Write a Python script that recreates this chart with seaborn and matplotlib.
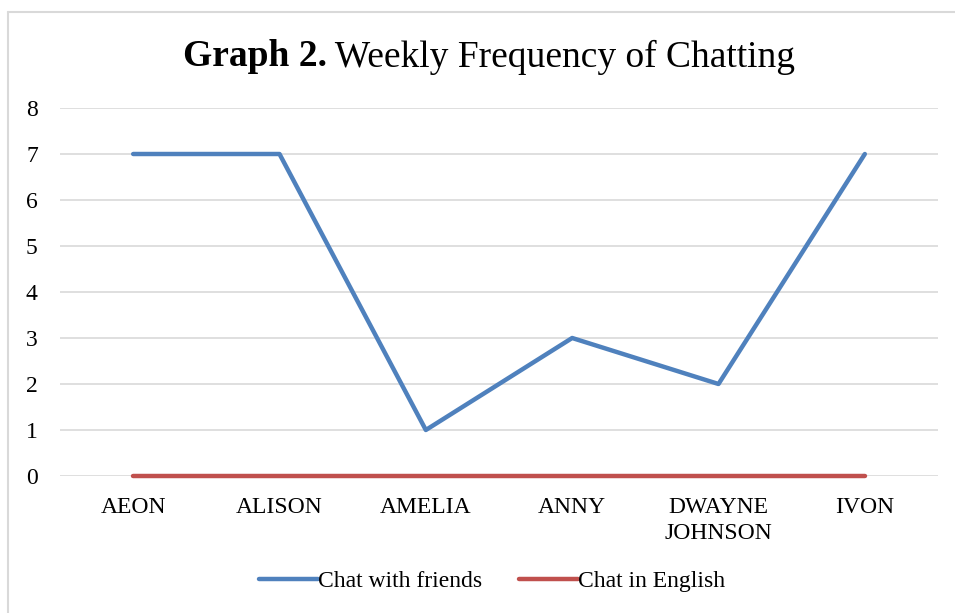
import pandas as pd
import seaborn as sns
import matplotlib.pyplot as plt
from matplotlib.lines import Line2D

names = ["AEON", "ALISON", "AMELIA", "ANNY", "DWAYNE\nJOHNSON", "IVON"]
chat_friends = [7, 7, 1, 3, 2, 7]
chat_english = [0, 0, 0, 0, 0, 0]
series = ["Chat with friends", "Chat in English"]
colors = ["#4F81BD", "#C0504D"]

df = pd.DataFrame({
    "name": names * 2,
    "value": chat_friends + chat_english,
    "series": [series[0]] * len(names) + [series[1]] * len(names),
})

sns.set_style("white")
plt.rcParams["font.family"] = ["Liberation Serif", "DejaVu Serif"]
plt.rcParams["text.color"] = "black"
plt.rcParams["xtick.color"] = "black"
plt.rcParams["ytick.color"] = "black"

fig = plt.figure(figsize=(9.55, 6.13), dpi=100)
ax = fig.add_axes([60 / 955, 1 - 476 / 613, 878 / 955, 368 / 613])

sns.lineplot(data=df, x="name", y="value", hue="series", palette=colors,
             linewidth=3.2, ax=ax, legend=False, zorder=3)
for ln in ax.lines:
    ln.set_clip_on(False)
    ln.set_solid_capstyle("round")

ax.set_xlim(-0.5, len(names) - 0.5)
ax.set_ylim(0, 8)
ax.set_yticks(range(0, 9))
ax.yaxis.grid(True, color="#D9D9D9", linewidth=1.2)
ax.xaxis.grid(False)
for s in ax.spines.values():
    s.set_visible(False)
ax.tick_params(axis="y", length=0, pad=16, labelsize=17)
ax.tick_params(axis="x", length=0, pad=15, labelsize=17)
for lbl in ax.get_xticklabels():
    lbl.set_verticalalignment("top")
    lbl.set_linespacing(1.35)
ax.set_xlabel("")
ax.set_ylabel("")

# title: bold part + regular part
title_y = 1 - 57 / 613
t1 = fig.text(0, title_y, "Graph 2.", fontsize=27, fontweight="bold", va="center")
t2 = fig.text(0, title_y, " Weekly Frequency of Chatting", fontsize=27, va="center")
fig.canvas.draw()
r = fig.canvas.get_renderer()
w1 = t1.get_window_extent(r).width
w2 = t2.get_window_extent(r).width
x0 = 489 - (w1 + w2) / 2
t1.set_x(x0 / 955)
t2.set_x((x0 + w1) / 955)

handles = [Line2D([], [], color=c, linewidth=3.2, solid_capstyle="round") for c in colors]
fig.legend(handles, series, loc="center", bbox_to_anchor=(492 / 955, 1 - 581 / 613),
           ncol=2, frameon=False, fontsize=17, handlelength=2.5,
           handletextpad=0.0, columnspacing=1.55)

# outer chart border (top and left visible)
fig.add_artist(Line2D([8 / 955, 8 / 955], [0, 1 - 12 / 613], transform=fig.transFigure,
                      color="#D9D9D9", linewidth=1.5))
fig.add_artist(Line2D([8 / 955, 1], [1 - 12 / 613, 1 - 12 / 613], transform=fig.transFigure,
                      color="#D9D9D9", linewidth=1.5))

fig.savefig("out.png", dpi=100)
